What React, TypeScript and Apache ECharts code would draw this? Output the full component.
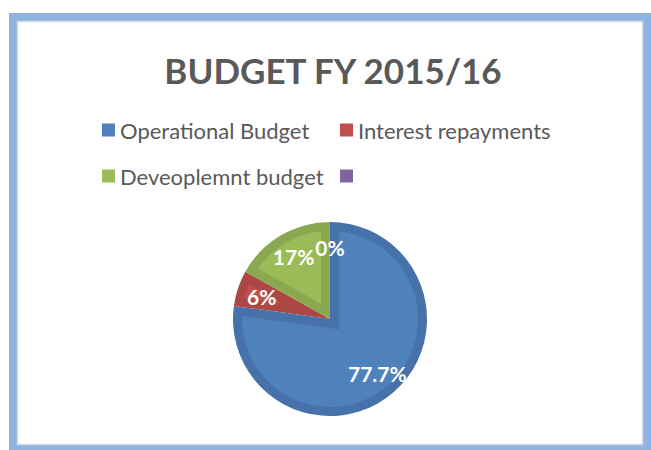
import { useEffect, useRef } from 'react';
import * as echarts from 'echarts';

const titleText = 'BUDGET FY 2015/16';
const categories = ['Operational Budget', 'Interest repayments', 'Deveoplemnt budget', ' '];
const values = [77.7, 6, 17, 0];

const baseColors = ['#4F81BD', '#C0504D', '#9BBB59', '#8064A2'];
const bandColors = ['#4671A9', '#AC4744', '#8AA84F', '#725A91'];

const CX = 330;
const CY = 319;
const R = 97;
const BAND = 9;
const FONT = 'Lato, "Liberation Sans", sans-serif';

const total = values.reduce((s, v) => s + v, 0);

function renderInset(params: any, api: any) {
  const i = params.dataIndex;
  const v = api.value(0);
  if (!(v > 0)) return null;
  let before = 0;
  for (let j = 0; j < i; j++) before += values[j];
  const a0 = (before / total) * Math.PI * 2;
  const a1 = ((before + v) / total) * Math.PI * 2;
  const half = (a1 - a0) / 2;
  const mid = a0 + half;
  const r2 = R - BAND;
  const apex = BAND / Math.sin(half);
  if (apex >= r2) return null;
  const px = CX + apex * Math.sin(mid);
  const py = CY - apex * Math.cos(mid);
  const hit = (a: number) => {
    const ux = Math.sin(a);
    const uy = -Math.cos(a);
    const dx = px - CX;
    const dy = py - CY;
    const b = dx * ux + dy * uy;
    const c = dx * dx + dy * dy - r2 * r2;
    const t = -b + Math.sqrt(b * b - c);
    return [px + t * ux, py + t * uy];
  };
  const q0 = hit(a0);
  const q1 = hit(a1);
  const ang = (p: number[]) => Math.atan2(p[0] - CX, -(p[1] - CY));
  const t0 = ang(q0);
  let t1 = ang(q1);
  while (t1 <= t0) t1 += Math.PI * 2;
  const pts: number[][] = [[px, py], q0];
  const n = Math.max(8, Math.ceil((t1 - t0) / 0.02));
  for (let k = 1; k < n; k++) {
    const t = t0 + ((t1 - t0) * k) / n;
    pts.push([CX + r2 * Math.sin(t), CY - r2 * Math.cos(t)]);
  }
  pts.push(q1);
  return {
    type: 'polygon',
    shape: { points: pts },
    style: { fill: baseColors[i] },
    silent: true,
  };
}

export default function App() {
  const ref = useRef<HTMLDivElement>(null);
  useEffect(() => {
    if (!ref.current) return;
    const chart = echarts.init(ref.current, undefined, { renderer: 'svg' });
    const legendText = { fontFamily: FONT, fontSize: 22, color: '#595959' };
    const pieData = categories.map((name, i) => ({ name, value: values[i] }));
    const legendBase = {
      orient: 'vertical',
      top: 119,
      padding: 0,
      itemGap: 24,
      itemWidth: 13,
      itemHeight: 13,
      icon: 'rect',
      selectedMode: false,
      textStyle: legendText,
    };
    chart.setOption({
      animation: false,
      backgroundColor: '#ffffff',
      title: {
        text: titleText,
        left: 328,
        top: 47,
        textAlign: 'center',
        textStyle: { fontFamily: FONT, fontSize: 35, fontWeight: 'bold', color: '#595959' },
      },
      legend: [
        {
          ...legendBase,
          left: 102,
          data: [0, 2].map((i) => ({ name: categories[i], itemStyle: { color: baseColors[i], borderWidth: 0 } })),
        },
        {
          ...legendBase,
          left: 340,
          data: [1, 3].map((i) => ({ name: categories[i], itemStyle: { color: baseColors[i], borderWidth: 0 } })),
        },
      ],
      graphic: [
        {
          type: 'rect',
          z: -10,
          silent: true,
          shape: { x: 13, y: 17, width: 634, height: 432 },
          style: { fill: 'none', stroke: '#8DB4E2', lineWidth: 8 },
        },
        {
          type: 'rect',
          z: -10,
          silent: true,
          shape: { x: 17.5, y: 21.5, width: 625, height: 423 },
          style: { fill: 'none', stroke: '#D9D9D9', lineWidth: 1.5 },
        },
      ],
      series: [
        {
          type: 'pie',
          z: 1,
          silent: true,
          center: [CX, CY],
          radius: [0, R],
          startAngle: 90,
          clockwise: true,
          label: { show: false },
          labelLine: { show: false },
          itemStyle: { borderWidth: 0, color: (p: any) => bandColors[p.dataIndex] },
          data: pieData,
        },
        {
          type: 'custom',
          z: 2,
          coordinateSystem: 'none',
          silent: true,
          renderItem: renderInset,
          data: values.map((v) => [v]),
        },
        {
          type: 'pie',
          z: 3,
          silent: true,
          center: [CX, CY],
          radius: [0, 138],
          startAngle: 90,
          clockwise: true,
          avoidLabelOverlap: false,
          itemStyle: { color: 'rgba(0,0,0,0)', borderWidth: 0 },
          label: {
            show: true,
            position: 'inside',
            formatter: '{c}%',
            fontFamily: FONT,
            fontSize: 21,
            fontWeight: 'bold',
            color: '#ffffff',
          },
          labelLine: { show: false },
          data: pieData,
        },
      ],
    });
    return () => chart.dispose();
  }, []);
  return (
    <div
      ref={ref}
      style={{ position: 'absolute', left: 0, top: 0, width: 651, height: 450 }}
    />
  );
}
